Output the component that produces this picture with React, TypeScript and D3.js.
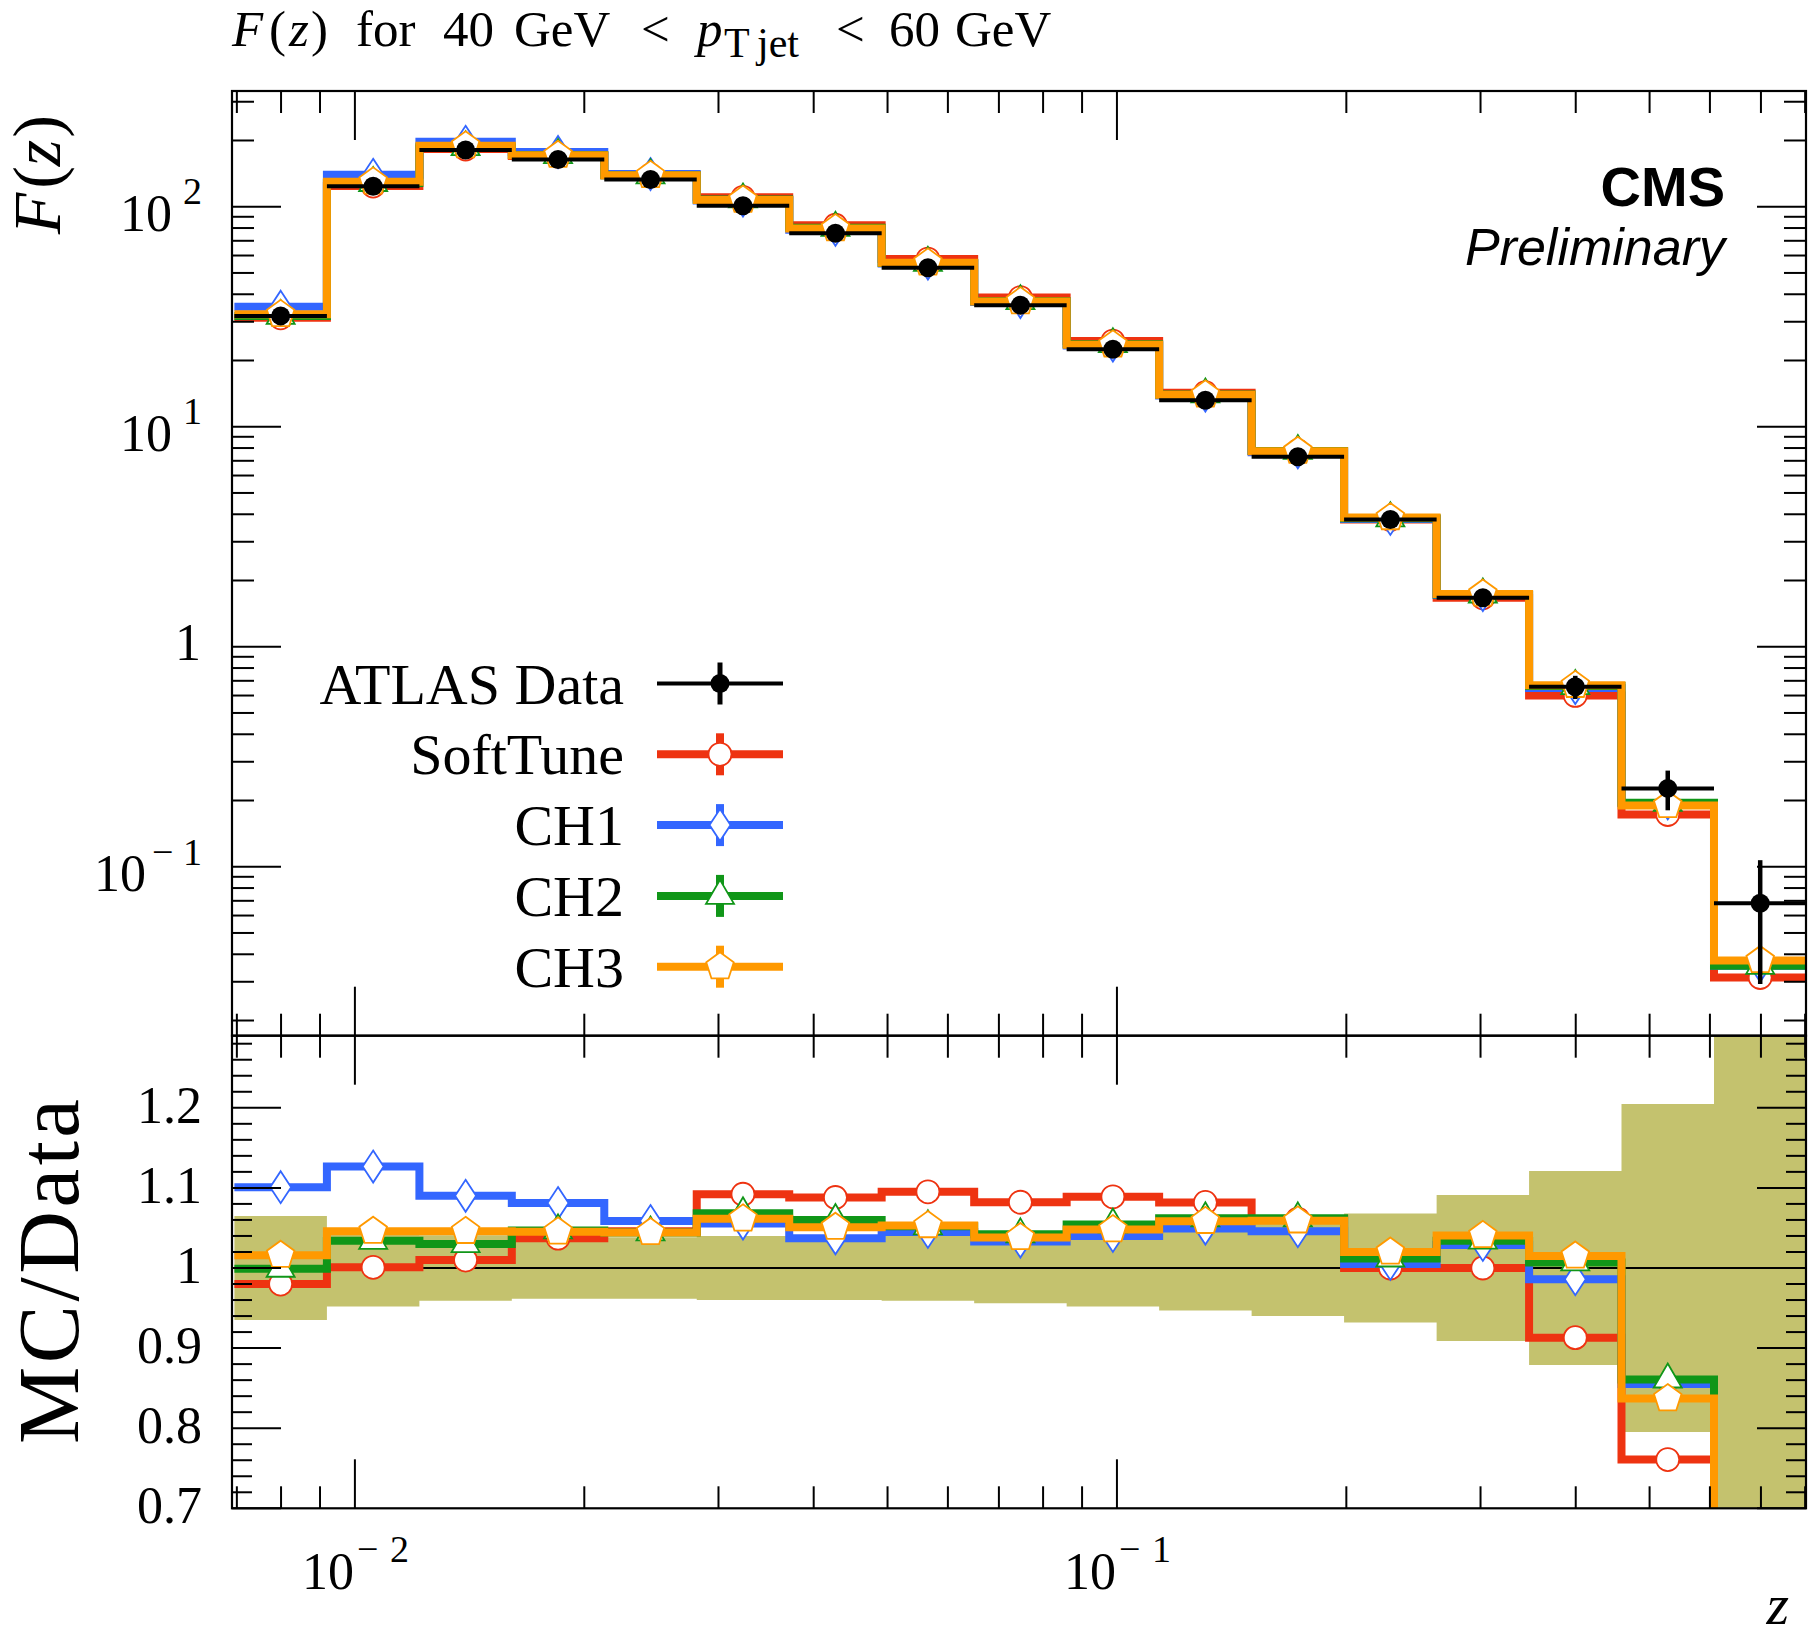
import React from 'react';
import * as d3 from 'd3';

// ---------------- data ----------------
const binEdges = [0.006948, 0.009189, 0.012152, 0.016066, 0.021245, 0.028092, 0.037149, 0.049118, 0.064962, 0.085901, 0.1136, 0.15022, 0.19864, 0.26273, 0.3474, 0.45931, 0.60743, 0.80308];
const dataValues = [31.9, 124, 181, 164, 133, 101, 75.7, 52.8, 35.7, 22.5, 13.2, 7.31, 3.79, 1.67, 0.658, 0.227, 0.0682];
const dataErrors = [2.07, 5.95, 7.42, 6.31, 5.12, 4.04, 3.03, 2.16, 1.57, 1.08, 0.70, 0.439, 0.258, 0.152, 0.0796, 0.0465, 0.0389];
const softTune = [31.26, 124.1, 182.8, 170.1, 139.1, 110.3, 82.36, 57.82, 38.63, 24.5, 14.28, 7.756, 3.79, 1.67, 0.6008, 0.1727, 0.03137];
const ch1 = [35.12, 139.7, 197.3, 177.3, 140.8, 106.6, 78.5, 55.18, 36.88, 23.4, 13.85, 7.646, 3.809, 1.718, 0.6488, 0.1941, 0.03546];
const ch2 = [31.87, 128.2, 186.4, 171.7, 138.9, 107.9, 80.24, 55.55, 37.2, 23.72, 14.02, 7.763, 3.835, 1.727, 0.6626, 0.1954, 0.03546];
const ch3 = [32.41, 129.7, 189.3, 171.4, 138.9, 107.2, 79.56, 55.6, 37.06, 23.58, 13.97, 7.741, 3.866, 1.738, 0.6679, 0.19, 0.03751];

const seriesNames = ['SoftTune', 'CH1', 'CH2', 'CH3'];
const seriesColors = ['#EE3311', '#3366FF', '#109618', '#FF9900'];
const seriesShapes = ['circle', 'diamond', 'triangle', 'pentagon'];
const seriesValues = [softTune, ch1, ch2, ch3];

const mainYExponents = [-1, 0, 1, 2];
const ratioTickValues = [0.7, 0.8, 0.9, 1.0, 1.1, 1.2];
const ratioTickLabels = ['0.7', '0.8', '0.9', '1', '1.1', '1.2'];
const xTickExponents = [-2, -1];

// ---------------- layout ----------------
const W = 1808, H = 1639;
const L = 232, R = 1806, T = 91, MID = 1035.7, B = 1508.3;
const X_DOMAIN = [0.006898, 0.8021];
const MAIN_Y_DOMAIN = [0.01706, 335.7];
const RATIO_Y_DOMAIN = [0.7, 1.29];
const SERIF = '"Liberation Serif", "Times New Roman", serif';
const SANS = '"Liberation Sans", Arial, sans-serif';
const LW = 8;

function markerPath(shape: string): string {
  if (shape === 'diamond') return 'M0,-16L10.5,0L0,16L-10.5,0Z';
  if (shape === 'triangle') return 'M0,-16L14,8L-14,8Z';
  if (shape === 'pentagon') {
    const Rr = 14.5;
    const pts = d3.range(5).map(k => {
      const a = (-90 + 72 * k) * Math.PI / 180;
      return [Rr * Math.cos(a), Rr * Math.sin(a)];
    });
    return 'M' + pts.map(p => p[0].toFixed(2) + ',' + p[1].toFixed(2)).join('L') + 'Z';
  }
  return '';
}

function Marker({ shape, color, cx, cy }: { shape: string; color: string; cx: number; cy: number }) {
  if (shape === 'circle') {
    return <circle cx={cx} cy={cy} r={11.5} fill="white" stroke={color} strokeWidth={1.8} />;
  }
  return <path d={markerPath(shape)} transform={`translate(${cx},${cy})`} fill="white" stroke={color} strokeWidth={1.8} strokeLinejoin="miter" />;
}

function logTicks(domain: number[]) {
  const out: { v: number; major: boolean }[] = [];
  for (let d = -4; d <= 3; d++) {
    for (let k = 1; k <= 9; k++) {
      const v = k * Math.pow(10, d);
      if (v >= domain[0] * 0.999 && v <= domain[1] * 1.001) out.push({ v, major: k === 1 });
    }
  }
  return out;
}

export default function App() {
  const x = d3.scaleLog().domain(X_DOMAIN).range([L, R]);
  const yM = d3.scaleLog().domain(MAIN_Y_DOMAIN).range([MID, T]);
  const yR = d3.scaleLinear().domain(RATIO_Y_DOMAIN).range([B, MID]);
  const n = dataValues.length;
  const centers = dataValues.map((_, i) => Math.sqrt(binEdges[i] * binEdges[i + 1]));

  const stepPath = (vals: number[], ys: (v: number) => number) => {
    const pts: [number, number][] = vals.map((v, i) => [x(binEdges[i]), ys(v)]);
    pts.push([x(binEdges[n]), ys(vals[n - 1])]);
    return d3.line().curve(d3.curveStepAfter)(pts) || '';
  };

  const ratios = seriesValues.map(vals => vals.map((v, i) => v / dataValues[i]));

  const bandPts = d3.range(n + 1).map(i => {
    const j = Math.min(i, n - 1);
    return { xv: binEdges[i], lo: 1 - dataErrors[j] / dataValues[j], hi: 1 + dataErrors[j] / dataValues[j] };
  });
  const bandPath = d3.area<any>().curve(d3.curveStepAfter)
    .x(d => x(d.xv)).y0(d => yR(Math.max(d.lo, 0.5))).y1(d => yR(Math.min(d.hi, 1.6)))(bandPts) || '';

  const xTicks = logTicks(X_DOMAIN);
  const yMainTicks = logTicks(MAIN_Y_DOMAIN);
  const ratioMinor = d3.range(0, 30).map(i => ({ v: 0.7 + 0.02 * i, major: i % 5 === 0 }));

  const MAJ = 49, MIN = 22;

  // legend
  const legendRows = [683.5, 754.3, 825.1, 895.9, 966.7];
  const legLineX0 = 657, legLineX1 = 783, legMarkX = 720, legTextX = 624;

  return (
    <svg width={W} height={H} style={{ position: 'absolute', left: 0, top: 0, background: 'white' }} xmlns="http://www.w3.org/2000/svg">
      <defs>
        <clipPath id="clipMain"><rect x={L} y={T} width={R - L} height={MID - T} /></clipPath>
        <clipPath id="clipRatio"><rect x={L} y={MID} width={R - L} height={B - MID} /></clipPath>
      </defs>
      <rect x={0} y={0} width={W} height={H} fill="white" />

      {/* Title */}
      <text y={46} fontSize={51} fontFamily={SERIF} fill="black">
        <tspan x={232} fontStyle="italic">F</tspan>
        <tspan x={269}>(</tspan>
        <tspan x={289} fontStyle="italic">z</tspan>
        <tspan x={311}>)</tspan>
        <tspan x={356}>for</tspan>
        <tspan x={443}>40</tspan>
        <tspan x={514}>GeV</tspan>
        <tspan x={641}>{'<'}</tspan>
        <tspan x={697} fontStyle="italic">p</tspan>
        <tspan x={724} dy={11} fontSize={42}>T</tspan>
        <tspan x={757} fontSize={42}>jet</tspan>
        <tspan x={836} dy={-11}>{'<'}</tspan>
        <tspan x={889}>60</tspan>
        <tspan x={955}>GeV</tspan>
      </text>

      {/* ---------- main panel ---------- */}
      <g clipPath="url(#clipMain)">
        {seriesValues.map((vals, s) => (
          <g key={'m' + s}>
            <path d={stepPath(vals, v => yM(v))} fill="none" stroke={seriesColors[s]} strokeWidth={LW} strokeLinejoin="miter" />
            {vals.map((v, i) => (
              <Marker key={i} shape={seriesShapes[s]} color={seriesColors[s]} cx={x(centers[i])} cy={yM(v)} />
            ))}
          </g>
        ))}
        {dataValues.map((v, i) => (
          <g key={'d' + i}>
            <line x1={x(binEdges[i])} x2={x(binEdges[i + 1])} y1={yM(v)} y2={yM(v)} stroke="black" strokeWidth={4} />
            <line x1={x(centers[i])} x2={x(centers[i])} y1={yM(v + dataErrors[i])} y2={yM(Math.max(v - dataErrors[i], 1e-4))} stroke="black" strokeWidth={4.5} />
            <circle cx={x(centers[i])} cy={yM(v)} r={9.5} fill="black" />
          </g>
        ))}
      </g>

      {/* CMS label */}
      <text x={1725} y={206} textAnchor="end" fontFamily={SANS} fontWeight="bold" fontSize={56} fill="black">CMS</text>
      <text x={1725} y={265} textAnchor="end" fontFamily={SANS} fontStyle="italic" fontSize={52} fill="black">Preliminary</text>

      {/* Legend */}
      <g>
        <text x={legTextX} y={legendRows[0] + 20} textAnchor="end" fontFamily={SERIF} fontSize={58}>ATLAS Data</text>
        <line x1={legLineX0} x2={legLineX1} y1={legendRows[0]} y2={legendRows[0]} stroke="black" strokeWidth={4} />
        <line x1={legMarkX} x2={legMarkX} y1={legendRows[0] - 21} y2={legendRows[0] + 21} stroke="black" strokeWidth={5} />
        <circle cx={legMarkX} cy={legendRows[0]} r={9.5} fill="black" />
        {seriesNames.map((name, s) => {
          const yy = legendRows[s + 1];
          return (
            <g key={'leg' + s}>
              <text x={legTextX} y={yy + 20} textAnchor="end" fontFamily={SERIF} fontSize={58}>{name}</text>
              <line x1={legLineX0} x2={legLineX1} y1={yy} y2={yy} stroke={seriesColors[s]} strokeWidth={LW} />
              <line x1={legMarkX} x2={legMarkX} y1={yy - 21} y2={yy + 21} stroke={seriesColors[s]} strokeWidth={LW} />
              <Marker shape={seriesShapes[s]} color={seriesColors[s]} cx={legMarkX} cy={yy} />
            </g>
          );
        })}
      </g>

      {/* ---------- ratio panel ---------- */}
      <g clipPath="url(#clipRatio)">
        <path d={bandPath} fill="#c4c26e" stroke="none" />
        <line x1={L} x2={R} y1={yR(1)} y2={yR(1)} stroke="black" strokeWidth={2} />
        {ratios.map((vals, s) => (
          <g key={'r' + s}>
            <path d={stepPath(vals, v => yR(v))} fill="none" stroke={seriesColors[s]} strokeWidth={LW} strokeLinejoin="miter" />
            {vals.map((v, i) => (
              <Marker key={i} shape={seriesShapes[s]} color={seriesColors[s]} cx={x(centers[i])} cy={yR(v)} />
            ))}
          </g>
        ))}
      </g>

      {/* ---------- ticks ---------- */}
      <g stroke="black" strokeWidth={2}>
        {xTicks.map((t, i) => {
          const xx = x(t.v);
          const len = t.major ? MAJ : MIN;
          return (
            <g key={'xt' + i}>
              <line x1={xx} x2={xx} y1={T} y2={T + len} />
              <line x1={xx} x2={xx} y1={MID} y2={MID - len} />
              <line x1={xx} x2={xx} y1={MID} y2={MID + len} />
              <line x1={xx} x2={xx} y1={B} y2={B - len} />
            </g>
          );
        })}
        {yMainTicks.map((t, i) => {
          const yy = yM(t.v);
          const len = t.major ? MAJ : MIN;
          return (
            <g key={'yt' + i}>
              <line x1={L} x2={L + len} y1={yy} y2={yy} />
              <line x1={R} x2={R - len} y1={yy} y2={yy} />
            </g>
          );
        })}
        {ratioMinor.map((t, i) => {
          const yy = yR(t.v);
          const len = t.major ? MAJ : 20;
          return (
            <g key={'rt' + i}>
              <line x1={L} x2={L + len} y1={yy} y2={yy} />
              <line x1={R} x2={R - len} y1={yy} y2={yy} />
            </g>
          );
        })}
      </g>

      {/* frames */}
      <rect x={L} y={T} width={R - L} height={MID - T} fill="none" stroke="black" strokeWidth={2.2} />
      <rect x={L} y={MID} width={R - L} height={B - MID} fill="none" stroke="black" strokeWidth={2.2} />

      {/* main y tick labels */}
      {mainYExponents.map(e => {
        const yy = yM(Math.pow(10, e));
        if (e === 0) {
          return <text key={'yl' + e} x={201} y={yy + 13} textAnchor="end" fontFamily={SERIF} fontSize={52}>1</text>;
        }
        const sup = e < 0 ? '\u2212' + Math.abs(e) : String(e);
        const tenEnd = e < 0 ? 146 : 172;
        return (
          <g key={'yl' + e}>
            <text x={tenEnd} y={yy + 24} textAnchor="end" fontFamily={SERIF} fontSize={52}>10</text>
            {e < 0 ? (
              <text x={152} y={yy - 2} fontFamily={SERIF} fontSize={38} textLength={50} lengthAdjust="spacing">{sup}</text>
            ) : (
              <text x={202} y={yy - 3} textAnchor="end" fontFamily={SERIF} fontSize={38}>{sup}</text>
            )}
          </g>
        );
      })}

      {/* ratio y tick labels */}
      {ratioTickValues.map((v, i) => (
        <text key={'rl' + i} x={202} y={yR(v) + 15} textAnchor="end" fontFamily={SERIF} fontSize={52}>{ratioTickLabels[i]}</text>
      ))}

      {/* x tick labels */}
      {xTickExponents.map(e => {
        const xx = x(Math.pow(10, e));
        return (
          <g key={'xl' + e}>
            <text x={xx - 53} y={1589} fontFamily={SERIF} fontSize={52}>10</text>
            <text x={xx + 2} y={1562} fontFamily={SERIF} fontSize={38} textLength={52} lengthAdjust="spacing">{'\u2212' + Math.abs(e)}</text>
          </g>
        );
      })}

      {/* axis labels */}
      <text x={1789} y={1624} textAnchor="end" fontFamily={SERIF} fontStyle="italic" fontSize={58}>z</text>
      <text transform="translate(60,115) rotate(-90)" textAnchor="end" fontFamily={SERIF} fontSize={68}>
        <tspan fontStyle="italic">F</tspan>
        <tspan dx={4}>(</tspan>
        <tspan fontStyle="italic">z</tspan>
        <tspan dx={2}>)</tspan>
      </text>
      <text transform="translate(78,1444) rotate(-90)" fontFamily={SERIF} fontSize={87} textLength={345} lengthAdjust="spacing">MC/Data</text>
    </svg>
  );
}
